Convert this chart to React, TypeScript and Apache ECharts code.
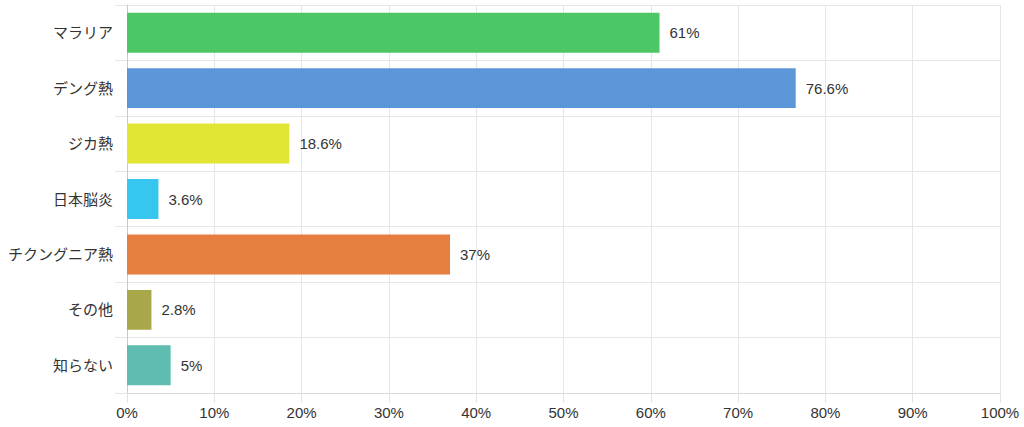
import React, { useEffect, useRef } from "react";
import * as echarts from "echarts";

const categories = ["マラリア", "デング熱", "ジカ熱", "日本脳炎", "チクングニア熱", "その他", "知らない"];
const values = [61, 76.6, 18.6, 3.6, 37, 2.8, 5];
const colors = ["#4dc666", "#5b96d9", "#e1e635", "#36c6f0", "#e67e40", "#a8a84a", "#5ebcb1"];
const xTicks = [0, 10, 20, 30, 40, 50, 60, 70, 80, 90, 100];

const FONT = "'Liberation Sans', 'Noto Sans CJK JP', sans-serif";

export default function App() {
  const ref = useRef<HTMLDivElement>(null);
  useEffect(() => {
    if (!ref.current) return;
    const chart = echarts.init(ref.current, undefined, { renderer: "svg" });
    chart.setOption({
      animation: false,
      textStyle: { fontFamily: FONT },
      grid: { left: 127, right: 24, top: 5, bottom: 34, containLabel: false },
      xAxis: {
        type: "value",
        min: xTicks[0],
        max: xTicks[xTicks.length - 1],
        interval: 10,
        axisLine: { show: true, lineStyle: { color: "#d9d9d9" } },
        axisTick: { show: true, length: 10, lineStyle: { color: "#e3e3e3" } },
        splitLine: { show: true, lineStyle: { color: "#e6e6e6" } },
        axisLabel: { formatter: "{value}%", fontSize: 15, color: "#333", margin: 12, fontFamily: FONT },
      },
      yAxis: {
        type: "category",
        inverse: true,
        data: categories,
        axisLine: { show: true, lineStyle: { color: "#c8c8c8" } },
        axisTick: { show: true, length: 12, lineStyle: { color: "#e6e6e6" } },
        splitLine: { show: true, lineStyle: { color: "#e6e6e6" } },
        axisLabel: { fontSize: 15, color: "#333", margin: 14, fontFamily: FONT },
      },
      series: [
        {
          type: "bar",
          barCategoryGap: "28%",
          data: values.map((v, i) => ({ value: v, itemStyle: { color: colors[i] } })),
          label: {
            show: true,
            position: "right",
            distance: 10,
            formatter: "{c}%",
            fontSize: 15,
            color: "#333",
            fontFamily: FONT,
          },
        },
      ],
    });
    return () => chart.dispose();
  }, []);
  return <div ref={ref} style={{ position: "fixed", left: 0, top: 0, width: 1024, height: 427, background: "#fff" }} />;
}
